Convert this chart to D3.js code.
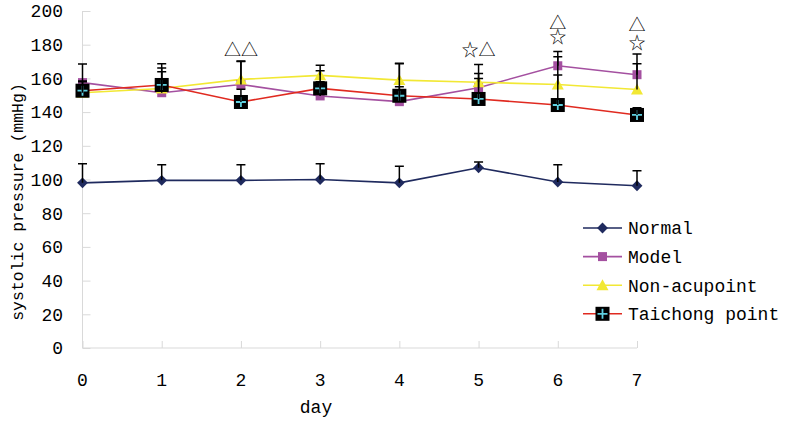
<!DOCTYPE html>
<html>
<head>
<meta charset="utf-8">
<script src="https://cdn.jsdelivr.net/npm/d3@7"></script>
<style>
  html, body { margin: 0; padding: 0; background: #fff; }
  svg { display: block; }
  text { font-family: "Liberation Mono", "DejaVu Sans Mono", monospace; fill: #000; }
</style>
</head>
<body>
<div id="chart"></div>
<script>
// ---------- data ----------
const days = [0, 1, 2, 3, 4, 5, 6, 7];
const yTicks = [0, 20, 40, 60, 80, 100, 120, 140, 160, 180, 200];

const seriesNames = ["Normal", "Model", "Non-acupoint", "Taichong point"];

const normalMean = [98, 99.5, 99.5, 100, 98, 107, 98.5, 96.3];
const normalSD   = [11.4, 9.3, 9.3, 9.3, 9.9, 3.4, 10.3, 8.9];

const modelMean = [157.5, 151.5, 156.4, 149.6, 146.2, 154.5, 167.5, 162.2];
const modelSD   = [11, 12.5, 13.9, 8.4, 8.8, 5.5, 8.4, 12.3];

const nonAcuMean = [151.5, 154, 159.4, 161.8, 159, 157.7, 156.4, 153.4];
const nonAcuSD   = [6.5, 12.2, 10.6, 6, 10, 10.6, 16.5, 15.3];

const taichongMean = [152.7, 156.1, 146, 154.1, 149.7, 147.8, 144.2, 138.3];
const taichongSD   = [5.7, 12.6, 7.5, 10.5, 19, 15.1, 17.8, 4.3];

// significance marks: day, lines of text (top to bottom), level of each line (data units)
const markDays   = [2, 5, 6, 7];
const markLines  = [["△△"], ["☆△"], ["△", "☆"], ["△", "☆"]];
const markLevels = [[177], [177], [193, 184.6], [191.7, 181]];

// ---------- layout ----------
const W = 787, H = 425;
const svg = d3.select("#chart").append("svg").attr("width", W).attr("height", H);

const x = d3.scaleLinear().domain([0, 7]).range([82.5, 637]);
const y = d3.scaleLinear().domain([0, 200]).range([348, 11]);

const axisColor = "#d9d9d9";

// y axis
const yAxis = svg.append("g").attr("transform", `translate(${x(0)},0)`)
  .call(d3.axisRight(y).tickValues(yTicks).tickSize(8).tickFormat(""));
yAxis.select(".domain").attr("stroke", axisColor).attr("d", `M0,${y(0)}V${y(200)}`);
yAxis.selectAll(".tick line").attr("stroke", axisColor);

svg.append("g").selectAll("text").data(yTicks).join("text")
  .attr("x", 63).attr("y", d => y(d)).attr("dy", "0.35em")
  .attr("text-anchor", "end").attr("font-size", 18).text(d => d);

// x axis
const xAxis = svg.append("g").attr("transform", `translate(0,${y(0)})`)
  .call(d3.axisTop(x).tickValues(days).tickSize(7).tickFormat(""));
xAxis.select(".domain").attr("stroke", axisColor).attr("d", `M${x(0)},0H${x(7)}`);
xAxis.selectAll(".tick line").attr("stroke", axisColor);

svg.append("g").selectAll("text").data(days).join("text")
  .attr("x", d => x(d)).attr("y", 386).attr("text-anchor", "middle")
  .attr("font-size", 18).text(d => d);

svg.append("text").attr("x", 316).attr("y", 413).attr("text-anchor", "middle")
  .attr("font-size", 18).text("day");

svg.append("text").attr("transform", "translate(23,202) rotate(-90)")
  .attr("text-anchor", "middle").attr("font-size", 16.5)
  .text("systolic pressure (mmHg)");

// ---------- series ----------
const series = [
  { name: seriesNames[0], mean: normalMean, sd: normalSD, color: "#1f2a5e", marker: "diamond" },
  { name: seriesNames[1], mean: modelMean, sd: modelSD, color: "#a450a0", marker: "square" },
  { name: seriesNames[2], mean: nonAcuMean, sd: nonAcuSD, color: "#f2e834", marker: "triangle" },
  { name: seriesNames[3], mean: taichongMean, sd: taichongSD, color: "#e02a20", marker: "taichong" }
];

const line = d3.line().x((d, i) => x(days[i])).y(d => y(d));

function drawMarker(g, type, color) {
  if (type === "diamond") {
    g.append("path").attr("d", d3.symbol(d3.symbolDiamond2, 75)()).attr("fill", color);
  } else if (type === "square") {
    g.append("rect").attr("x", -4.5).attr("y", -4.5).attr("width", 9).attr("height", 9).attr("fill", color);
  } else if (type === "triangle") {
    g.append("path").attr("d", "M0,-6L6,5H-6Z").attr("fill", color);
  } else {
    g.append("rect").attr("x", -7).attr("y", -7).attr("width", 14).attr("height", 14).attr("fill", "#000");
    g.append("path").attr("d", "M-5,0H5M0,-5V5").attr("stroke", "#5fd0e0").attr("stroke-width", 1.8);
  }
}

// lines
series.forEach(s => {
  svg.append("path").datum(s.mean).attr("d", line)
    .attr("fill", "none").attr("stroke", s.color).attr("stroke-width", 1.6);
});

// markers
series.forEach(s => {
  s.mean.forEach((v, i) => {
    const g = svg.append("g").attr("transform", `translate(${x(days[i])},${y(v)})`);
    drawMarker(g, s.marker, s.color);
  });
});

// error bars (upper)
series.forEach(s => {
  s.mean.forEach((v, i) => {
    const cx = x(days[i]), y0 = y(v), y1 = y(v + s.sd[i]);
    svg.append("path").attr("d", `M${cx},${y0}V${y1}M${cx - 4.5},${y1}H${cx + 4.5}`)
      .attr("stroke", "#000").attr("stroke-width", 1.5).attr("fill", "none");
  });
});

// significance marks
const marks = svg.append("g").selectAll("text").data(markDays).join("text")
  .attr("x", d => x(d)).attr("y", (d, i) => y(markLevels[i][0]))
  .attr("text-anchor", "middle")
  .style("font-family", "'Noto Sans CJK SC', 'DejaVu Sans', sans-serif")
  .style("fill", "#000")
  .attr("font-size", 17);
marks.each(function(d, i) {
  const t = d3.select(this);
  markLines[i].forEach((s, j) => {
    t.append("tspan").attr("x", x(d)).attr("y", y(markLevels[i][j]))
      .attr("dy", "0.35em").text(s);
  });
});

// ---------- legend ----------
const legend = svg.append("g");
series.forEach((s, i) => {
  const ly = 228 + i * 28.6;
  legend.append("line").attr("x1", 583).attr("x2", 622).attr("y1", ly).attr("y2", ly)
    .attr("stroke", s.color).attr("stroke-width", 1.6);
  const g = legend.append("g").attr("transform", `translate(602.5,${ly})`);
  drawMarker(g, s.marker, s.color);
  legend.append("text").attr("x", 628).attr("y", ly).attr("dy", "0.35em")
    .attr("font-size", 18).text(s.name);
});
</script>
</body>
</html>
